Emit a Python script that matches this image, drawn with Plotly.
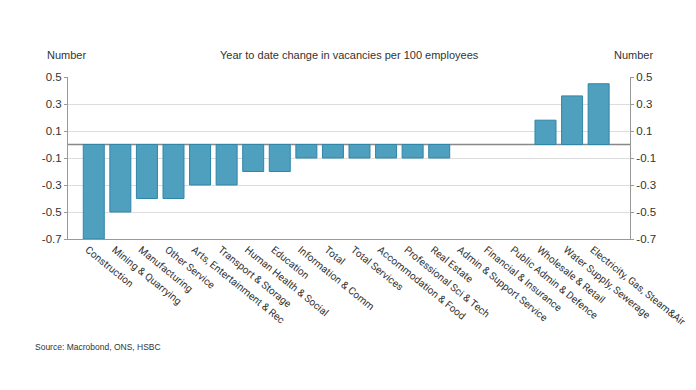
import plotly.graph_objects as go

categories = ["Construction", "Mining & Quarrying", "Manufacturing", "Other Service",
              "Arts, Entertainment & Rec", "Transport & Storage", "Human Health & Social",
              "Education", "Information & Comm", "Total", "Total Services",
              "Accommodation & Food", "Professional Sci & Tech", "Real Estate",
              "Admin & Support Service", "Financial & Insurance", "Public Admin & Defence",
              "Wholesale & Retail", "Water Supply, Sewerage", "Electricity, Gas, Steam&Air"]
values = [-0.7, -0.5, -0.4, -0.4, -0.3, -0.3, -0.2, -0.2, -0.1, -0.1, -0.1,
          -0.1, -0.1, -0.1, 0.0, 0.0, 0.0, 0.18, 0.36, 0.45]
tick_vals = [-0.7, -0.5, -0.3, -0.1, 0.1, 0.3, 0.5]
tick_text = ["-0.7", "-0.5", "-0.3", "-0.1", "0.1", "0.3", "0.5"]

FONT = "Liberation Sans"
LABEL_FONT = "Roboto"
line_widths = [1 if v != 0 else 0 for v in values]

fig = go.Figure()
fig.add_trace(go.Bar(x=categories, y=values,
                     marker=dict(color="#4f9fbf", line=dict(color="#2f86a8", width=line_widths)),
                     showlegend=False))
fig.add_trace(go.Scatter(x=categories, y=values, yaxis="y2", mode="none",
                         hoverinfo="skip", showlegend=False))

yax = dict(range=[-0.7, 0.5], tickvals=tick_vals, ticktext=tick_text,
           showgrid=True, gridcolor="#dddddd", gridwidth=1,
           zeroline=False, showline=True, linecolor="#999999", linewidth=1,
           ticks="outside", ticklen=3, tickcolor="#999999", automargin=False,
           tickfont=dict(family=FONT, size=11.5, color="#333333"))
# page body has an 8px margin, so the figure is sized to fill the window from (8, 8)
fig.update_layout(
    width=688, height=382,
    paper_bgcolor="white", plot_bgcolor="white",
    margin=dict(l=60, r=66, t=69, b=151),
    bargap=0.21,
    font=dict(family=FONT, color="#333333"),
    xaxis=dict(tickangle=39, showline=True, linecolor="#999999", linewidth=1,
               range=[-0.97, 20.18], ticklabelshift=-6,
               tickfont=dict(family=LABEL_FONT, size=10.2, color="#333333"),
               showgrid=False, ticks="", automargin=False),
    yaxis=yax,
    yaxis2=dict(yax, overlaying="y", side="right", showgrid=False, matches="y"),
    shapes=[dict(type="line", xref="paper", yref="y", x0=0, x1=1, y0=0, y1=0,
                 line=dict(color="#888888", width=1.5), layer="below")],
    annotations=[
        dict(text="Year to date change in vacancies per 100 employees", xref="paper", yref="paper",
             x=0.5, y=1, yshift=22, showarrow=False, xanchor="center", yanchor="middle",
             font=dict(size=11, family=FONT, color="#333333")),
        dict(text="Number", xref="paper", yref="paper", x=0, xshift=-2, y=1, yshift=22,
             showarrow=False, xanchor="center", yanchor="middle",
             font=dict(size=11, family=FONT, color="#333333")),
        dict(text="Number", xref="paper", yref="paper", x=1, xshift=3, y=1, yshift=22,
             showarrow=False, xanchor="center", yanchor="middle",
             font=dict(size=11, family=FONT, color="#333333")),
        dict(text="Source: Macrobond, ONS, HSBC", xref="paper", yref="paper",
             x=0, xshift=-35, y=0, yshift=-108, showarrow=False, xanchor="left", yanchor="middle",
             font=dict(size=8.5, family=FONT, color="#333333")),
    ],
)
fig.write_html("out.html")
